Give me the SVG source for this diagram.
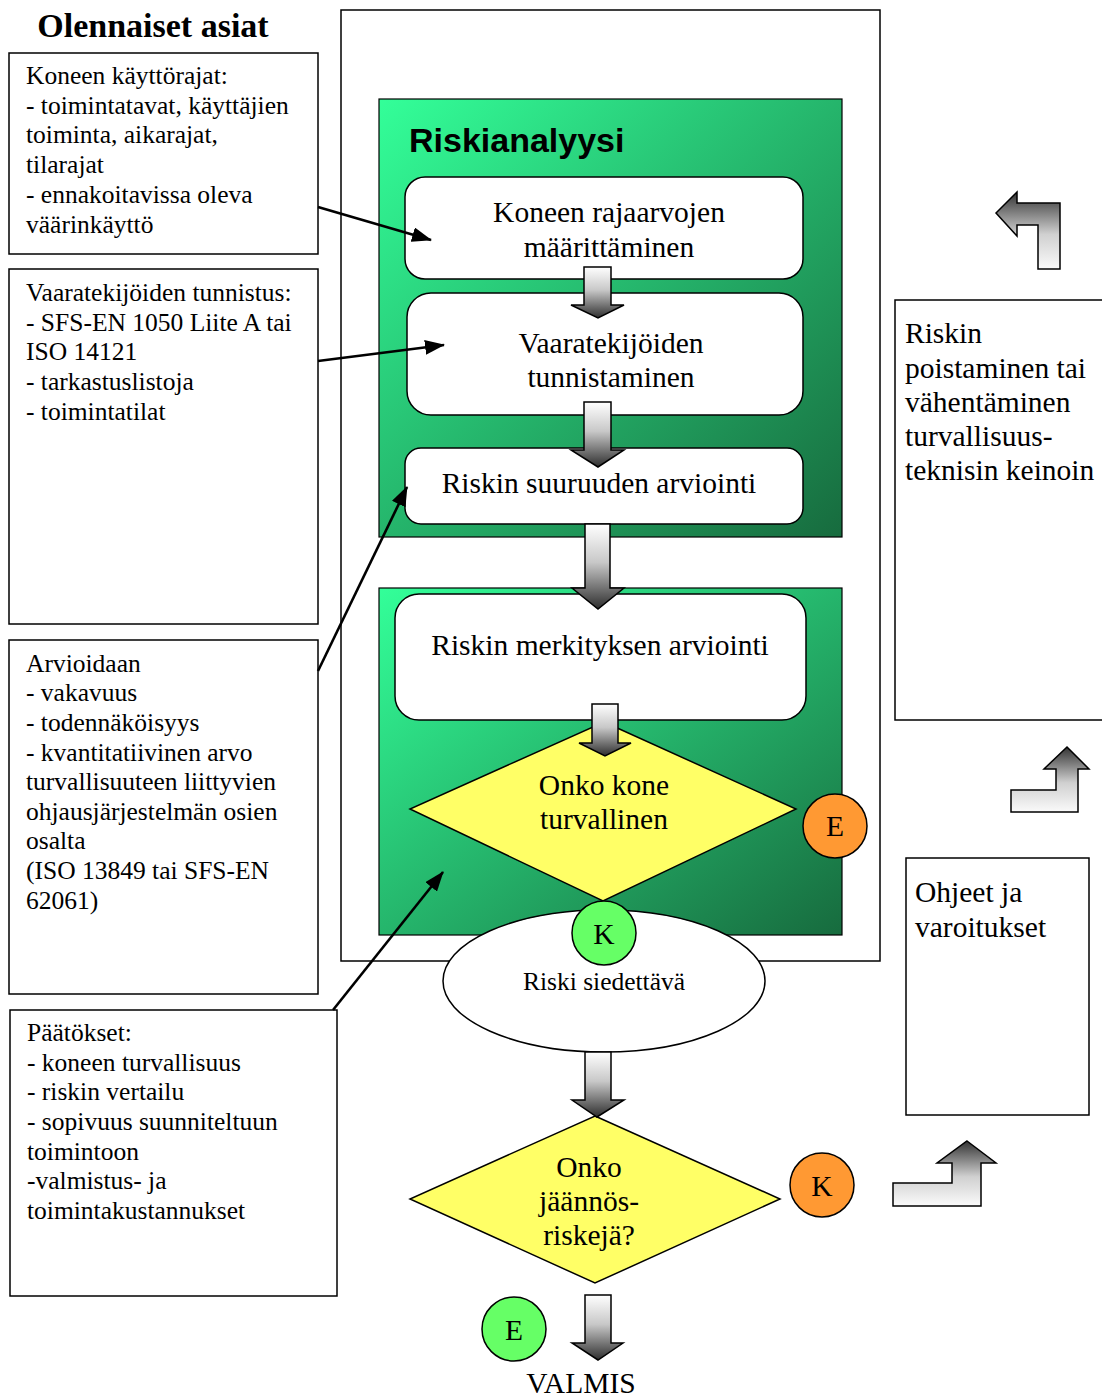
<svg xmlns="http://www.w3.org/2000/svg" width="1102" height="1398" viewBox="0 0 1102 1398">
<defs>
<linearGradient id="green" x1="0" y1="0" x2="1" y2="1">
<stop offset="0" stop-color="#33FF99"/>
<stop offset="1" stop-color="#176B3E"/>
</linearGradient>
<linearGradient id="gray" x1="0" y1="0" x2="0" y2="1">
<stop offset="0" stop-color="#FFFFFF"/>
<stop offset="0.45" stop-color="#C8C8C8"/>
<stop offset="1" stop-color="#2E2E2E"/>
</linearGradient>
<linearGradient id="grayUp" x1="0" y1="0" x2="0" y2="1">
<stop offset="0" stop-color="#333333"/>
<stop offset="0.55" stop-color="#D0D0D0"/>
<stop offset="1" stop-color="#FAFAFA"/>
</linearGradient>
<marker id="ah" markerWidth="10" markerHeight="8" refX="9" refY="4" orient="auto" markerUnits="userSpaceOnUse" viewBox="0 0 10 8">
<path d="M0,0 L10,4 L0,8 Z" fill="#000"/>
</marker>
<marker id="ahl" markerWidth="20" markerHeight="15" refX="19" refY="7.5" orient="auto" markerUnits="userSpaceOnUse" viewBox="0 0 20 15">
<path d="M0,0 L20,7.5 L0,15 Z" fill="#000"/>
</marker>
</defs>
<style>
.box{fill:#fff;stroke:#000;stroke-width:1.5}
.rbox{fill:#fff;stroke:#000;stroke-width:1.5}
.grn{fill:url(#green);stroke:#000;stroke-width:1.2}
.dia{fill:#FFFF66;stroke:#000;stroke-width:1.5}
.t{font-family:"Liberation Serif","Times New Roman",serif;fill:#000}
.s25{font-size:25.5px}
.s29{font-size:29.5px}
.mid{text-anchor:middle}
.blk{fill:url(#gray);stroke:#000;stroke-width:1.5}
.bent{fill:url(#grayUp);stroke:#000;stroke-width:1.5}
.line{stroke:#000;stroke-width:2.6;fill:none;marker-end:url(#ahl)}
</style>

<text class="t mid" x="153" y="37" font-size="34" font-weight="bold">Olennaiset asiat</text>

<g id="box-kayttorajat">
<rect class="box" x="9" y="53" width="309" height="201"/>
<text class="t s25" x="26" y="84">Koneen käyttörajat:</text>
<text class="t s25" x="26" y="114">- toimintatavat, käyttäjien</text>
<text class="t s25" x="26" y="143">toiminta, aikarajat,</text>
<text class="t s25" x="26" y="173">tilarajat</text>
<text class="t s25" x="26" y="203">- ennakoitavissa oleva</text>
<text class="t s25" x="26" y="233">väärinkäyttö</text>
</g>

<g id="box-vaaratekijat">
<rect class="box" x="9" y="269" width="309" height="355"/>
<text class="t s25" x="26" y="301">Vaaratekijöiden tunnistus:</text>
<text class="t s25" x="26" y="331">- SFS-EN 1050 Liite A tai</text>
<text class="t s25" x="26" y="360">ISO 14121</text>
<text class="t s25" x="26" y="390">- tarkastuslistoja</text>
<text class="t s25" x="26" y="420">- toimintatilat</text>
</g>

<g id="box-arvioidaan">
<rect class="box" x="9" y="640" width="309" height="354"/>
<text class="t s25" x="26" y="672">Arvioidaan</text>
<text class="t s25" x="26" y="701">- vakavuus</text>
<text class="t s25" x="26" y="731">- todennäköisyys</text>
<text class="t s25" x="26" y="761">- kvantitatiivinen arvo</text>
<text class="t s25" x="26" y="790">turvallisuuteen liittyvien</text>
<text class="t s25" x="26" y="820">ohjausjärjestelmän osien</text>
<text class="t s25" x="26" y="849">osalta</text>
<text class="t s25" x="26" y="879">(ISO 13849 tai SFS-EN</text>
<text class="t s25" x="26" y="909">62061)</text>
</g>

<g id="box-paatokset">
<rect class="box" x="10" y="1010" width="327" height="286"/>
<text class="t s25" x="27" y="1041">Päätökset:</text>
<text class="t s25" x="27" y="1071">- koneen turvallisuus</text>
<text class="t s25" x="27" y="1100">- riskin vertailu</text>
<text class="t s25" x="27" y="1130">- sopivuus suunniteltuun</text>
<text class="t s25" x="27" y="1160">toimintoon</text>
<text class="t s25" x="27" y="1189">-valmistus- ja</text>
<text class="t s25" x="27" y="1219">toimintakustannukset</text>
</g>

<g id="frame">
<rect x="341" y="10" width="539" height="951" fill="#fff" stroke="#000" stroke-width="1.5"/>
</g>

<g id="riskianalyysi">
<rect class="grn" x="379" y="99" width="463" height="438"/>
<text x="409" y="152" font-family="Liberation Sans, Arial, sans-serif" font-size="34" font-weight="bold" fill="#000">Riskianalyysi</text>
</g>

<g id="riskin-arvottaminen">
<rect class="grn" x="379" y="588" width="463" height="347"/>
</g>

<g id="node-rajaarvot">
<rect class="rbox" x="405" y="177" width="398" height="102" rx="20"/>
<text class="t s29 mid" x="609" y="222">Koneen rajaarvojen</text>
<text class="t s29 mid" x="609" y="257">määrittäminen</text>
</g>

<g id="node-tunnistaminen">
<rect class="rbox" x="407" y="293" width="396" height="122" rx="24"/>
<text class="t s29 mid" x="611" y="353">Vaaratekijöiden</text>
<text class="t s29 mid" x="611" y="387">tunnistaminen</text>
</g>

<g id="node-suuruus">
<rect class="rbox" x="405" y="448" width="398" height="76" rx="16"/>
<text class="t s29 mid" x="599" y="493">Riskin suuruuden arviointi</text>
</g>

<g id="node-merkitys">
<rect class="rbox" x="395" y="594" width="411" height="126" rx="24"/>
<text class="t s29 mid" x="600" y="655">Riskin merkityksen arviointi</text>
</g>

<g id="node-turvallinen">
<polygon class="dia" points="604,722 796,809 603,901 410,809"/>
<text class="t s29 mid" x="604" y="795">Onko kone</text>
<text class="t s29 mid" x="604" y="829">turvallinen</text>
</g>

<g id="node-siedettava">
<ellipse cx="604" cy="981" rx="161" ry="71" fill="#fff" stroke="#000" stroke-width="1.5"/>
<text class="t s25 mid" x="604" y="990">Riski siedettävä</text>
</g>

<g id="node-jaannosriskit">
<polygon class="dia" points="595,1116 780,1199 595,1283 410,1199"/>
<text class="t s29 mid" x="589" y="1177">Onko</text>
<text class="t s29 mid" x="589" y="1211">jäännös-</text>
<text class="t s29 mid" x="589" y="1245">riskejä?</text>
</g>

<g id="node-poistaminen">
<rect class="box" x="895" y="300" width="215" height="420"/>
<text class="t s29" x="905" y="343">Riskin</text>
<text class="t s29" x="905" y="378">poistaminen tai</text>
<text class="t s29" x="905" y="412">vähentäminen</text>
<text class="t s29" x="905" y="446">turvallisuus-</text>
<text class="t s29" x="905" y="480">teknisin keinoin</text>
</g>

<g id="node-ohjeet">
<rect class="box" x="906" y="858" width="183" height="257"/>
<text class="t s29" x="915" y="902">Ohjeet ja</text>
<text class="t s29" x="915" y="937">varoitukset</text>
</g>

<g id="label-E1">
<circle cx="835" cy="826" r="32" fill="#FF9933" stroke="#000" stroke-width="1.5"/>
<text class="t s29 mid" x="835" y="836">E</text>
</g>
<g id="label-K1">
<circle cx="604" cy="933" r="32" fill="#66FF66" stroke="#000" stroke-width="1.5"/>
<text class="t s29 mid" x="604" y="944">K</text>
</g>
<g id="label-K2">
<circle cx="822" cy="1185" r="32" fill="#FF9933" stroke="#000" stroke-width="1.5"/>
<text class="t s29 mid" x="822" y="1196">K</text>
</g>
<g id="label-E2">
<circle cx="514" cy="1329" r="32" fill="#66FF66" stroke="#000" stroke-width="1.5"/>
<text class="t s29 mid" x="514" y="1340">E</text>
</g>

<g id="node-valmis">
<text class="t s29 mid" x="581" y="1393">VALMIS</text>
</g>

<g id="connectors">
<path class="blk" d="M584,267 L611,267 L611,305 L624,305 L598,318 L571,305 L584,305 Z"/>
<path class="blk" d="M584,402 L611,402 L611,450 L624,450 L598,467 L571,450 L584,450 Z"/>
<path class="blk" d="M585,524 L610,524 L610,588 L624,588 L598,609 L572,588 L585,588 Z"/>
<path class="blk" d="M592,704 L618,704 L618,743 L631,743 L605,756 L579,743 L592,743 Z"/>
<path class="blk" d="M585,1052 L611,1052 L611,1100 L624,1100 L597,1117 L572,1100 L585,1100 Z"/>
<path class="blk" d="M585,1295 L611,1295 L611,1343 L623,1343 L598,1360 L572,1343 L585,1343 Z"/>

<path class="bent" d="M996,213 L1017,192 L1017,203 L1060,203 L1060,269 L1038,269 L1038,225 L1017,225 L1017,236 Z"/>
<path class="bent" d="M1067,747 L1089,769 L1078,769 L1078,812 L1011,812 L1011,790 L1056,790 L1056,769 L1044,769 Z"/>
<path class="bent" d="M967,1141 L996,1163 L981,1163 L981,1206 L893,1206 L893,1183 L952,1183 L952,1163 L937,1163 Z"/>

<line class="line" x1="318" y1="207" x2="431" y2="240"/>
<line class="line" x1="318" y1="361" x2="444" y2="345"/>
<line class="line" x1="318" y1="671" x2="407" y2="487"/>
<line class="line" x1="333" y1="1010" x2="443" y2="872"/>
</g>
</svg>
